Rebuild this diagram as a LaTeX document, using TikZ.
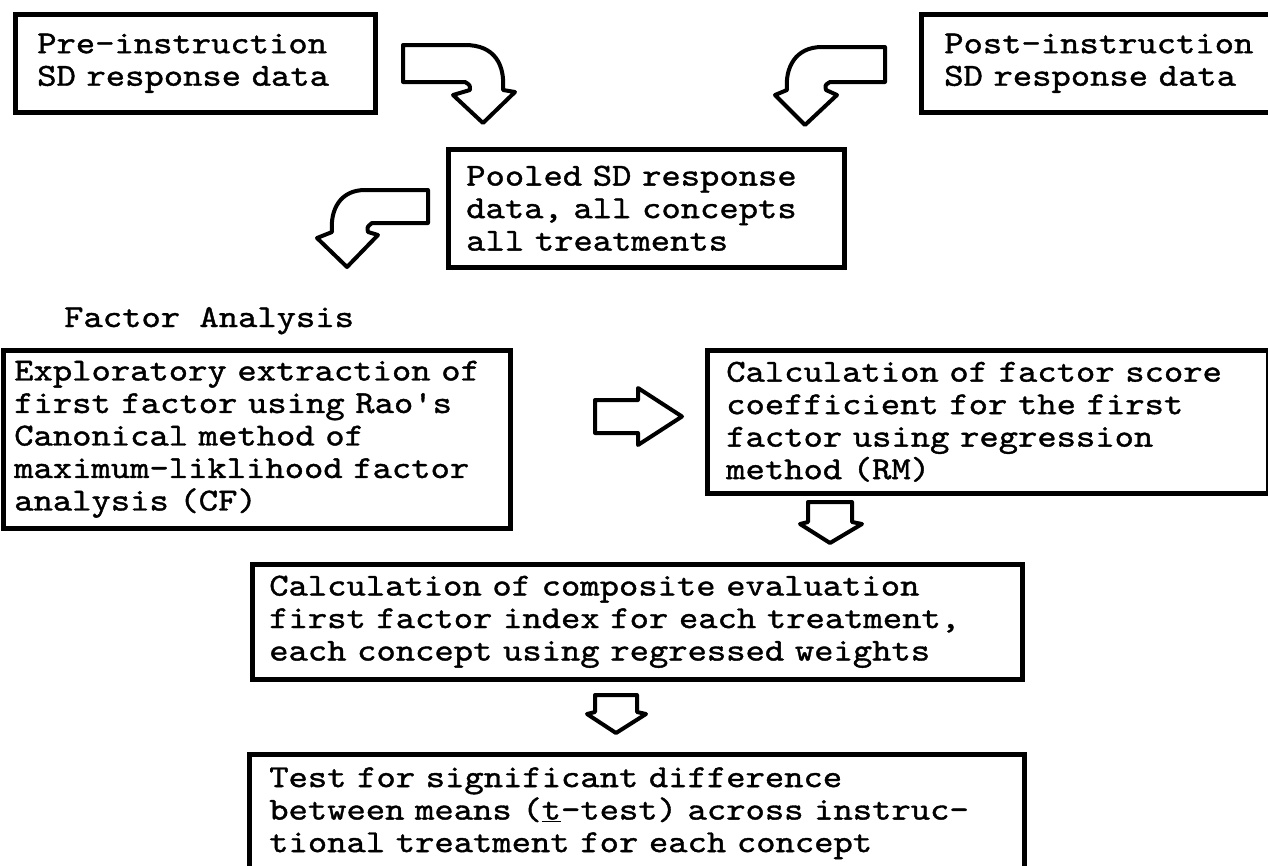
\documentclass[tikz,border=0pt]{standalone}
\usepackage{fontspec}
\newfontfamily\tw[Extension=.otf,FakeStretch=1.15,FakeBold=1.2]{lmmono10-regular}
\begin{document}
\begin{tikzpicture}[x=1pt,y=-1pt,
  box/.style={draw, line width=4.5pt, inner ysep=0pt, align=left, anchor=north west,
    font=\tw\fontsize{32}{32.5}\selectfont},
  blk/.style={draw, line width=4pt, line join=round, fill=white}]
\useasboundingbox (0,0) rectangle (1268,865);
% boxes
\node[box, minimum width=360, minimum height=98, inner xsep=22, text width=316] (A) at (13,12)
  {Pre-instruction\\SD response data};
\node[box, minimum width=400, minimum height=98, inner xsep=23, text width=354] (B) at (919,12)
  {Post-instruction\\SD response data};
\node[box, minimum width=396, minimum height=118, inner xsep=18, text width=360] (C) at (446,147)
  {Pooled SD response\\data, all concepts\\all treatments};
\node[font=\tw\fontsize{32}{32.5}\selectfont, anchor=base west, inner sep=0] (fa) at (64,327) {Factor Analysis};
\node[box, minimum width=507, minimum height=178, inner xsep=11, text width=485] (D) at (1,348)
  {Exploratory extraction of\\first factor using Rao's\\Canonical method of\\maximum-liklihood factor\\analysis (CF)};
\node[box, minimum width=561, minimum height=143, inner xsep=19, text width=523] (R) at (705,348)
  {Calculation of factor score\\coefficient for the first\\factor using regression\\method (RM)};
\node[box, minimum width=770, minimum height=115, inner xsep=17, text width=736] (E) at (250,562)
  {Calculation of composite evaluation\\first factor index for each treatment,\\each concept using regressed weights};
\node[box, minimum width=775, minimum height=118, inner xsep=20, text width=735] (F) at (247,752)
  {Test for significant difference\\between means (\underline{t}-test) across instruc-\\tional treatment for each concept};
% block arrows
\draw[blk] (403,45) -- (465,45) .. controls (495,45) and (505,65) .. (503,90) -- (515,92) -- (483,123)
  -- (453,95) -- (470,90) .. controls (470,85) .. (465,82) -- (403,82) -- cycle;
\draw[blk] (885,47) -- (822,47) .. controls (795,47) and (785,68) .. (787,90) -- (775,95) -- (805,125)
  -- (837,95) -- (826,90) .. controls (825,85) .. (830,82) -- (885,82) -- cycle;
\draw[blk] (428,190) -- (365,190) .. controls (340,190) and (330,210) .. (332,232) -- (317,238) -- (347,267)
  -- (378,235) -- (368,232) .. controls (367,227) .. (372,223) -- (428,223) -- cycle;
\draw[blk] (595,400) -- (638,400) -- (638,388) -- (682,416.5) -- (638,445) -- (638,433) -- (595,433) -- cycle;
\draw[blk] (808,502) -- (852,502) -- (852,522) -- (862,524) -- (830,543) -- (800,524) -- (808,522) -- cycle;
\draw[blk] (595,695) -- (637,695) -- (637,712) -- (646,714) -- (616,733) -- (587,714) -- (595,712) -- cycle;
\end{tikzpicture}
\end{document}
